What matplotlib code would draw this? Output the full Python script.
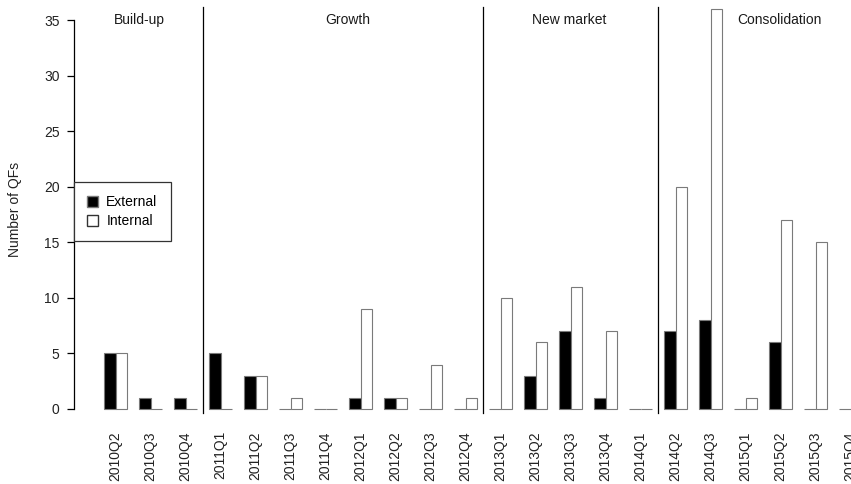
import matplotlib
matplotlib.use("Agg")
import matplotlib.pyplot as plt
from matplotlib.patches import Patch
import numpy as np

plt.rcParams['font.family'] = ['Liberation Sans', 'DejaVu Sans']

quarters = ["2010Q2", "2010Q3", "2010Q4",
            "2011Q1", "2011Q2", "2011Q3", "2011Q4",
            "2012Q1", "2012Q2", "2012Q3", "2012Q4",
            "2013Q1", "2013Q2", "2013Q3", "2013Q4",
            "2014Q1", "2014Q2", "2014Q3",
            "2015Q1", "2015Q2", "2015Q3", "2015Q4"]
external = [5, 1, 1, 5, 3, 0, 0, 1, 1, 0, 0, 0, 3, 7, 1, 0, 7, 8, 0, 6, 0, 0]
internal = [5, 0, 0, 0, 3, 1, 0, 9, 1, 4, 1, 10, 6, 11, 7, 0, 20, 36, 1, 17, 15, 0]
phases = ["Build-up", "Growth", "New market", "Consolidation"]
phase_sizes = [3, 8, 5, 6]

W, H = 851, 484
fig = plt.figure(figsize=(W / 100, H / 100), dpi=100)

# pixel geometry (R barplot layout, cropped)
px_per_x = 11.667
px_per_y = 11.11
x0_px, u0 = 349.0, 22.0   # pixel of x-unit 22
y0_px = 409.0             # pixel of y = 0
xlim = (-1.6, 68.6)
ylim = (-1.44, 37.44)
left_px = x0_px + (xlim[0] - u0) * px_per_x
right_px = x0_px + (xlim[1] - u0) * px_per_x
top_px = y0_px - ylim[1] * px_per_y
bot_px = y0_px - ylim[0] * px_per_y
ax = fig.add_axes([left_px / W, 1 - bot_px / H, (right_px - left_px) / W, (bot_px - top_px) / H])
ax.set_xlim(*xlim)
ax.set_ylim(*ylim)
ax.patch.set_alpha(0)

n = len(quarters)
idx = np.arange(n)
ext_x = 1.5 + 3 * idx
int_x = 2.5 + 3 * idx
edge = "#7a7a7a"
ax.bar(ext_x, external, width=1, color="black", edgecolor=edge, linewidth=0.8)
ax.bar(int_x, internal, width=1, color="white", edgecolor=edge, linewidth=0.8)

# phase separators
bounds = np.cumsum(phase_sizes)[:-1]
for b in bounds:
    xv = 3 * b + 0.5
    ax.plot([xv, xv], [-0.4, 36.2], color="black", lw=0.9, clip_on=False)

label_x = [4.0, 21.9, 40.9, 58.9]
for name, lx in zip(phases, label_x):
    ax.text(lx, 35, name, ha="center", va="center", fontsize=10, color="#1a1a1a")

# axes styling
for s in ["top", "right", "bottom"]:
    ax.spines[s].set_visible(False)
ax.spines["left"].set_bounds(0, 35)
ax.spines["left"].set_linewidth(0.9)
ax.set_yticks(np.arange(0, 36, 5))
ax.tick_params(axis="y", length=5, width=0.9, labelsize=10, pad=5.2, labelcolor="#222222")
ax.set_xticks(2 + 3 * idx)
ax.set_xticklabels(quarters, rotation=90, fontsize=10, color="#222222")
ax.tick_params(axis="x", length=0, pad=4.5)

fig.text(15 / W, 1 - 209 / H, "Number of QFs", rotation=90, ha="center", va="center",
         fontsize=10, color="#222222")

handles = [Patch(facecolor="black", edgecolor=edge, label="External"),
           Patch(facecolor="white", edgecolor="#333333", label="Internal")]
leg = ax.legend(handles=handles, loc="upper left",
                bbox_to_anchor=(left_px / W, 1 - 182 / H), bbox_transform=fig.transFigure,
                fontsize=10, frameon=True, fancybox=False, framealpha=1, edgecolor="#333333",
                borderpad=0.95, labelspacing=0.35, handlelength=0.8, handleheight=0.8,
                handletextpad=0.6, borderaxespad=0)
leg.get_frame().set_linewidth(0.9)

fig.savefig("out.png", dpi=100)
